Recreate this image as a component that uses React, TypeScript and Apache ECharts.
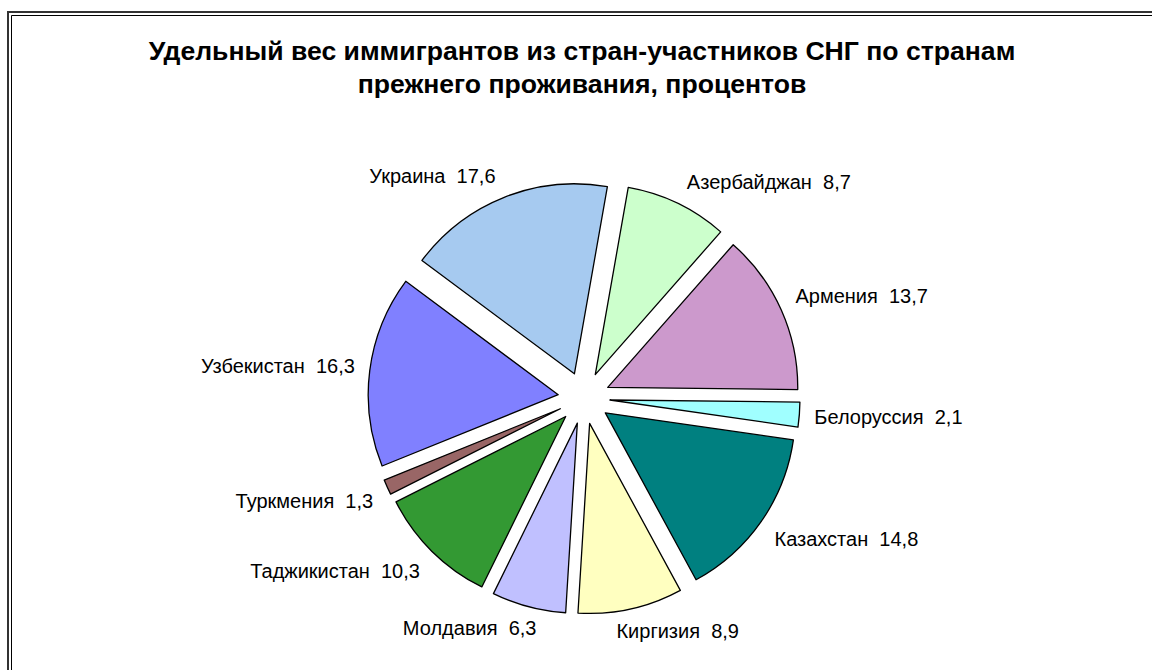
import React, { useEffect, useRef } from "react";
import * as echarts from "echarts";

const titleLines = [
  "Удельный вес иммигрантов из стран-участников СНГ по странам",
  "прежнего проживания, процентов",
];
const categories = [
  "Азербайджан",
  "Армения",
  "Белоруссия",
  "Казахстан",
  "Киргизия",
  "Молдавия",
  "Таджикистан",
  "Туркмения",
  "Узбекистан",
  "Украина",
];
const values = [8.7, 13.7, 2.1, 14.8, 8.9, 6.3, 10.3, 1.3, 16.3, 17.6];
const colors = [
  "#CCFFCC",
  "#CC99CC",
  "#A0FFFF",
  "#008080",
  "#FFFFC0",
  "#C0C0FF",
  "#339933",
  "#996666",
  "#8080FF",
  "#A6CAF0",
];

const CX = 584;
const CY = 398;
const START_FROM_TOP = 10; // degrees clockwise from 12 o'clock
const LABEL_SIZE = 20;
const FONT = "'Liberation Sans', Arial, sans-serif";

const labelText = (name: string, value: number) =>
  name + "  " + String(value).replace(".", ",");

export default function App() {
  const ref = useRef<HTMLDivElement>(null);
  useEffect(() => {
    if (!ref.current) return;
    const chart = echarts.init(ref.current, null, { renderer: "svg" });
    const ctx = document.createElement("canvas").getContext("2d");
    if (ctx) ctx.font = `${LABEL_SIZE}px ${FONT}`;
    const total = values.reduce((a, b) => a + b, 0);
    const midAngles: number[] = [];
    let acc = 0;
    values.forEach((v) => {
      midAngles.push(((START_FROM_TOP + ((acc + v / 2) / total) * 360) * Math.PI) / 180);
      acc += v;
    });
    const clamp = (v: number) => Math.max(-1, Math.min(1, v));
    chart.setOption({
      animation: false,
      backgroundColor: "#ffffff",
      title: {
        text: titleLines.join("\n"),
        left: 577,
        top: 29,
        textAlign: "center",
        textStyle: {
          fontFamily: FONT,
          fontSize: 26.6,
          fontWeight: "bold",
          color: "#000",
          lineHeight: 33,
        },
      },
      graphic: [
        {
          type: "rect",
          shape: { x: 8, y: 12, width: 1200, height: 700 },
          style: { fill: "none", stroke: "#333", lineWidth: 2 },
          silent: true,
        },
        {
          type: "rect",
          shape: { x: 11.5, y: 15.5, width: 1200, height: 700 },
          style: { fill: "none", stroke: "#000", lineWidth: 1 },
          silent: true,
        },
      ],
      series: [
        {
          type: "pie",
          center: [CX, CY],
          radius: 190,
          startAngle: 90 - START_FROM_TOP,
          clockwise: true,
          selectedMode: "multiple",
          selectedOffset: 26,
          avoidLabelOverlap: false,
          emphasis: { disabled: true },
          itemStyle: { borderColor: "#000", borderWidth: 1.3 },
          label: {
            show: true,
            position: "outside",
            fontFamily: FONT,
            fontSize: LABEL_SIZE,
            color: "#000",
            formatter: (p: any) => labelText(p.name, p.value),
          },
          labelLine: { show: false, length: 10, length2: 0 },
          labelLayout: (p: any) => {
            const i = p.dataIndex;
            const a = midAngles[i];
            const s = Math.sin(a);
            const c = Math.cos(a);
            const w = ctx
              ? ctx.measureText(labelText(categories[i], values[i])).width
              : 140;
            const h = 24;
            const dx = s >= 0 ? (clamp(s * 3) - 1) * (w / 2) : (clamp(s * 3) + 1) * (w / 2);
            const dy = -(clamp(c * 2) * h) / 2;
            return { dx, dy };
          },
          data: categories.map((c, i) => ({
            name: c,
            value: values[i],
            selected: true,
            itemStyle: { color: colors[i] },
          })),
        },
      ],
    });
    return () => chart.dispose();
  }, []);
  return (
    <div
      ref={ref}
      style={{ position: "absolute", left: 0, top: 0, width: 1152, height: 670 }}
    />
  );
}
